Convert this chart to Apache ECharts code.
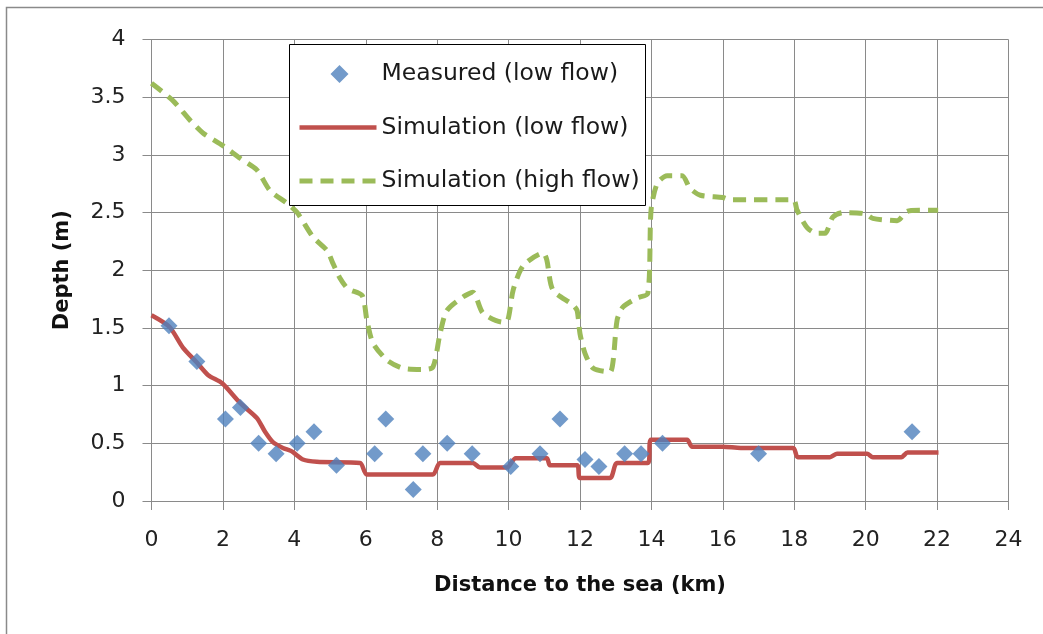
<!DOCTYPE html>
<html>
<head>
<meta charset="utf-8">
<script src="https://cdn.jsdelivr.net/npm/echarts@6/dist/echarts.min.js"></script>
<style>html,body{margin:0;padding:0;background:#fff;}#c{width:1043px;height:634px;}</style>
</head>
<body>
<div id="c"></div>
<script>
// ---- data ----
const xTicks = [0, 2, 4, 6, 8, 10, 12, 14, 16, 18, 20, 22, 24];
const yTicks = [0, 0.5, 1, 1.5, 2, 2.5, 3, 3.5, 4];

const measuredX = [0.49, 1.27, 2.07, 2.49, 3.0, 3.49, 4.08, 4.55, 5.18, 6.25, 6.56, 7.33, 7.6, 8.28, 8.98, 10.06, 10.88, 11.44, 12.14, 12.53, 13.25, 13.71, 14.31, 17.0, 21.3];
const measuredY = [1.52, 1.21, 0.71, 0.81, 0.5, 0.41, 0.5, 0.6, 0.31, 0.41, 0.71, 0.1, 0.41, 0.5, 0.41, 0.3, 0.41, 0.71, 0.36, 0.3, 0.41, 0.41, 0.5, 0.41, 0.6];

const lowX = [0, 0.5, 0.88, 1.27, 1.59, 1.98, 2.48, 2.95, 3.18, 3.4, 3.68, 3.93, 4.24, 4.63, 5.84, 6.03, 7.88, 8.08, 9.0, 9.2, 9.95, 10.2, 11.07, 11.16, 11.92, 12.0, 12.84, 13.04, 13.9, 13.99, 15.0, 15.14, 16.0, 16.5, 17.97, 18.1, 19.0, 19.2, 20.04, 20.2, 21.0, 21.17, 22.04];
const lowY = [1.61, 1.51, 1.33, 1.2, 1.09, 1.02, 0.85, 0.72, 0.6, 0.51, 0.46, 0.43, 0.36, 0.34, 0.33, 0.23, 0.23, 0.33, 0.33, 0.29, 0.29, 0.37, 0.37, 0.31, 0.31, 0.2, 0.2, 0.33, 0.33, 0.53, 0.53, 0.47, 0.47, 0.46, 0.46, 0.38, 0.38, 0.41, 0.41, 0.38, 0.38, 0.42, 0.42];

const highX = [0, 0.6, 1.08, 1.44, 2.0, 2.48, 2.95, 3.32, 3.8, 4.08, 4.52, 4.92, 5.08, 5.28, 5.5, 5.9, 6.03, 6.2, 6.6, 7.05, 7.6, 7.88, 8.08, 8.27, 8.73, 9.0, 9.28, 9.84, 9.98, 10.13, 10.41, 10.97, 11.07, 11.24, 11.8, 11.92, 12.0, 12.14, 12.37, 12.84, 12.93, 13.04, 13.2, 13.6, 13.9, 13.99, 14.16, 14.44, 14.86, 15.08, 15.37, 16.0, 16.2, 17.97, 18.08, 18.36, 18.64, 18.86, 19.08, 19.36, 19.98, 20.2, 20.88, 21.16, 21.5, 22.03];
const highY = [3.62, 3.47, 3.3, 3.19, 3.08, 2.97, 2.87, 2.69, 2.58, 2.5, 2.29, 2.17, 2.06, 1.93, 1.84, 1.78, 1.57, 1.37, 1.22, 1.15, 1.14, 1.16, 1.45, 1.65, 1.77, 1.81, 1.63, 1.55, 1.57, 1.83, 2.04, 2.15, 2.09, 1.83, 1.7, 1.65, 1.45, 1.28, 1.15, 1.12, 1.22, 1.57, 1.68, 1.76, 1.8, 2.52, 2.75, 2.82, 2.82, 2.71, 2.65, 2.63, 2.61, 2.61, 2.52, 2.37, 2.32, 2.32, 2.46, 2.5, 2.49, 2.45, 2.43, 2.51, 2.52, 2.52];

const seriesNames = ['Measured (low flow)', 'Simulation (low flow)', 'Simulation (high flow)'];
const xTitle = 'Distance to the sea (km)';
const yTitle = 'Depth (m)';

const zip = (a, b) => a.map((v, i) => [v, b[i]]);
const FONT = '"DejaVu Sans", sans-serif';
const BLUE = '#4F81BD', RED = '#C0504D', GREEN = '#9BBB59';

// legend diamond: invisible specks at both ends keep the diamond square inside the wide icon box
const diamondIcon = 'path://M0,9L0.01,9L0,9.01ZM77,9L76.99,9L77,9.01ZM40,0L49,9L40,18L31,9Z';

const chart = echarts.init(document.getElementById('c'), null, {renderer: 'canvas'});
chart.setOption({
  animation: false,
  backgroundColor: '#fff',
  graphic: [
    {type: 'rect', left: 4, top: 5, z: -10, silent: true,
     shape: {x: 0, y: 0, width: 1200, height: 800},
     style: {fill: 'none', stroke: '#8a8a8a', lineWidth: 1.5}},
    {type: 'rect', z: 100, silent: true,
     shape: {x: 289.5, y: 44.5, width: 356, height: 161},
     style: {fill: '#fff', stroke: '#000', lineWidth: 1}}
  ],
  grid: {left: 151.5, right: 34.5, top: 39.5, bottom: 133, containLabel: false},
  legend: {
    z: 101,
    orient: 'vertical',
    left: 297, top: 62,
    padding: 0,
    itemWidth: 77, itemHeight: 18,
    itemGap: 29.5,
    textStyle: {fontFamily: FONT, fontSize: 23.5, color: '#1a1a1a', lineHeight: 24},
    data: [
      {name: seriesNames[0], icon: diamondIcon, itemStyle: {color: BLUE}},
      {name: seriesNames[1], itemStyle: {opacity: 0}, lineStyle: {color: RED, width: 4.5}},
      {name: seriesNames[2], itemStyle: {opacity: 0}, lineStyle: {color: GREEN, width: 5, type: [13, 8]}}
    ]
  },
  xAxis: {
    type: 'value', min: 0, max: 24, interval: 2,
    name: xTitle, nameLocation: 'middle', nameGap: 74,
    nameTextStyle: {fontFamily: FONT, fontSize: 21, fontWeight: 'bold', color: '#111'},
    axisLine: {show: true, lineStyle: {color: '#8a8a8a', width: 1}},
    axisTick: {show: true, length: 9, lineStyle: {color: '#8a8a8a'}},
    axisLabel: {fontFamily: FONT, fontSize: 22, color: '#222', margin: 28,
      formatter: v => xTicks.includes(v) ? String(v) : ''},
    splitLine: {show: true, lineStyle: {color: '#8a8a8a', width: 1}}
  },
  yAxis: {
    type: 'value', min: 0, max: 4, interval: 0.5,
    name: yTitle, nameLocation: 'middle', nameGap: 78, nameRotate: 90,
    nameTextStyle: {fontFamily: FONT, fontSize: 21, fontWeight: 'bold', color: '#111'},
    axisLine: {show: true, lineStyle: {color: '#8a8a8a', width: 1}},
    axisTick: {show: true, length: 9, lineStyle: {color: '#8a8a8a'}},
    axisLabel: {fontFamily: FONT, fontSize: 22, color: '#222', margin: 26,
      formatter: v => yTicks.includes(v) ? String(v) : ''},
    splitLine: {show: true, lineStyle: {color: '#8a8a8a', width: 1}}
  },
  series: [
    {
      name: seriesNames[0], type: 'scatter', z: 5,
      symbol: 'diamond', symbolSize: 17,
      itemStyle: {color: BLUE},
      data: zip(measuredX, measuredY)
    },
    {
      name: seriesNames[1], type: 'line', z: 3,
      symbol: 'none', smooth: 0.25,
      lineStyle: {color: RED, width: 4.5},
      itemStyle: {color: RED},
      data: zip(lowX, lowY)
    },
    {
      name: seriesNames[2], type: 'line', z: 3,
      symbol: 'none', smooth: 0.25,
      lineStyle: {color: GREEN, width: 5, type: [13, 8]},
      itemStyle: {color: GREEN},
      data: zip(highX, highY)
    }
  ]
});
</script>
</body>
</html>
